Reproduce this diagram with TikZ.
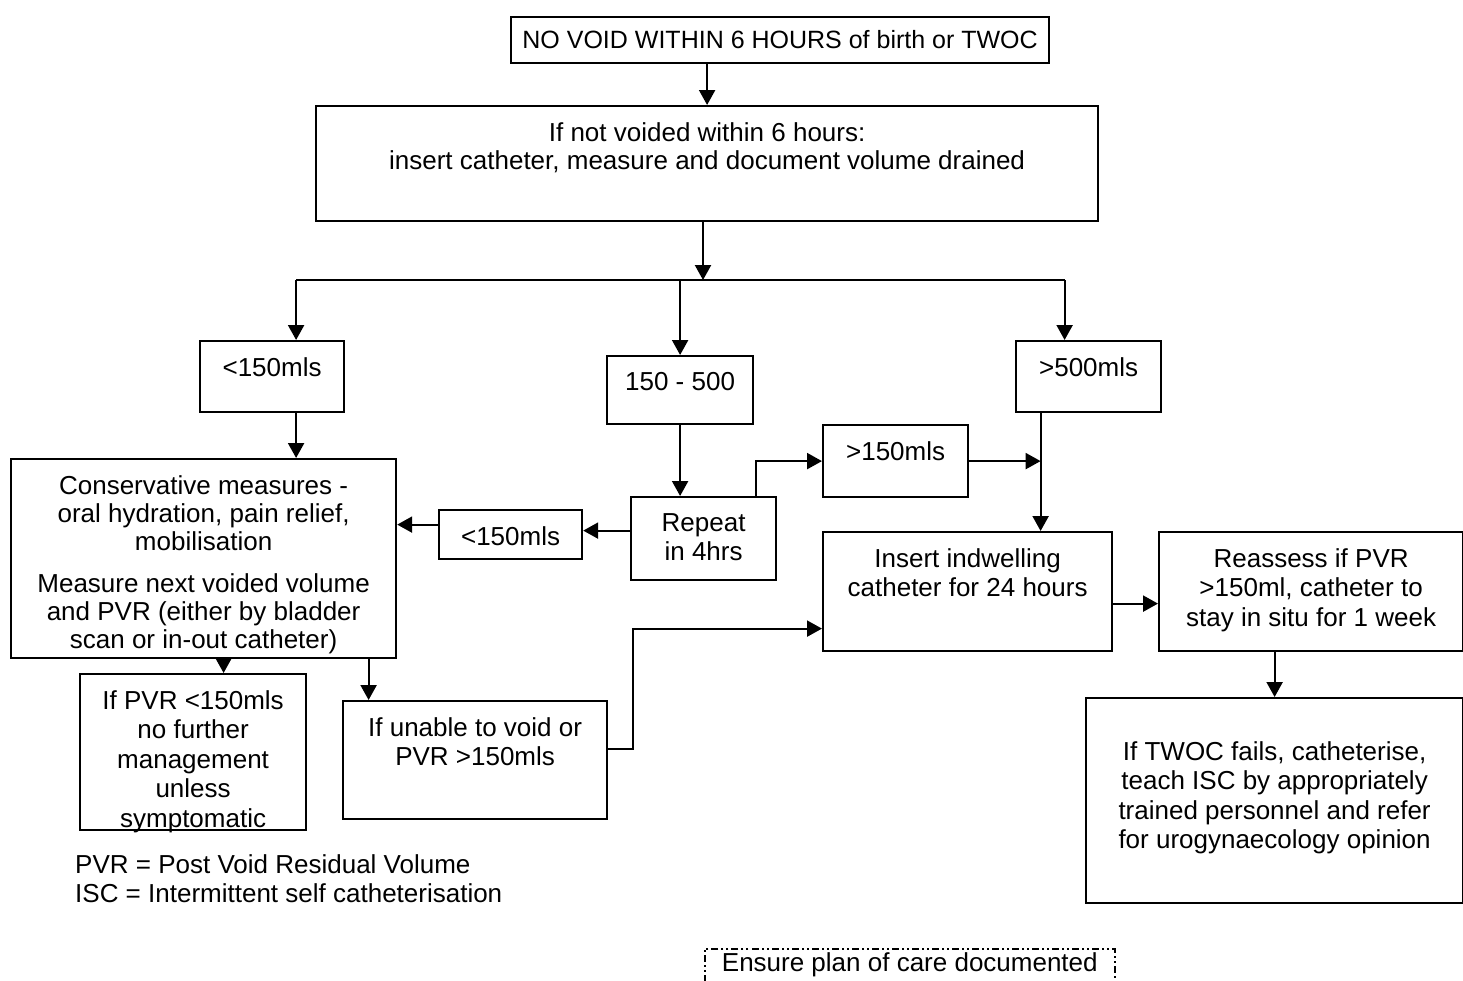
\documentclass[tikz,border=0pt]{standalone}
\usepackage{fontspec}
\setmainfont{Liberation Sans}
\usetikzlibrary{arrows.meta}

\tikzset{
  flowbox/.style={draw, line width=2.2pt, anchor=north west, inner sep=0pt},
  flowtext/.style={anchor=north, align=center, inner sep=0pt, yshift=-17pt,
    font=\fontsize{26}{29.5}\selectfont},
  arr/.style={line width=2.2pt, -{Triangle[length=15pt,width=16pt]}},
  link/.style={line width=2.2pt},
  note/.style={draw, line width=1.8pt, dash pattern=on 7pt off 3pt on 2pt off 3pt on 2pt off 3pt},
}

\begin{document}
\begin{tikzpicture}[x=1pt,y=-1pt]
\useasboundingbox (0,0) rectangle (1463,980);

% boxes
\node[flowbox, minimum width=538pt, minimum height=46pt,
  label={[flowtext, yshift=3pt, font=\fontsize{25}{29.5}\selectfont]north:{NO VOID WITHIN 6 HOURS of birth or TWOC}}] (start) at (510,16) {};
\node[flowbox, minimum width=782pt, minimum height=115pt,
  label={[flowtext, font=\fontsize{26}{28}\selectfont]north:{If not voided within 6 hours:\\insert catheter, measure and document volume drained}}] (drain) at (315,105) {};
\node[flowbox, minimum width=144pt, minimum height=71pt,
  label={[flowtext]north:{<150mls}}] (lo) at (199,340) {};
\node[flowbox, minimum width=146pt, minimum height=68pt,
  label={[flowtext]north:{150 - 500}}] (mid) at (606,355) {};
\node[flowbox, minimum width=145pt, minimum height=71pt,
  label={[flowtext]north:{>500mls}}] (hi) at (1015,340) {};
\node[flowbox, minimum width=145pt, minimum height=72pt,
  label={[flowtext]north:{>150mls}}] (hi150) at (822,424) {};
\node[flowbox, minimum width=385pt, minimum height=199pt,
  label={[flowtext, font=\fontsize{26}{28}\selectfont]north:{Conservative measures -\\oral hydration, pain relief,\\mobilisation\\[14pt]Measure next voided volume\\and PVR (either by bladder\\scan or in-out catheter)}}] (cons) at (10,458) {};
\node[flowbox, minimum width=143pt, minimum height=49pt,
  label={[flowtext]north:{<150mls}}] (lo2) at (438,509) {};
\node[flowbox, minimum width=145pt, minimum height=83pt,
  label={[flowtext]north:{Repeat\\in 4hrs}}] (rep) at (630,496) {};
\node[flowbox, minimum width=289pt, minimum height=119pt,
  label={[flowtext]north:{Insert indwelling\\catheter for 24 hours}}] (indw) at (822,531) {};
\node[flowbox, minimum width=304pt, minimum height=119pt,
  label={[flowtext]north:{Reassess if PVR\\>150ml, catheter to\\stay in situ for 1 week}}] (reas) at (1158,531) {};
\node[flowbox, minimum width=226pt, minimum height=156pt,
  label={[flowtext]north:{If PVR <150mls\\no further\\management\\unless\\symptomatic}}] (pvrok) at (79,673) {};
\node[flowbox, minimum width=264pt, minimum height=118pt,
  label={[flowtext]north:{If unable to void or\\PVR >150mls}}] (unable) at (342,700) {};
\node[flowbox, minimum width=377pt, minimum height=205pt,
  label={[flowtext, yshift=-27pt]north:{If TWOC fails, catheterise,\\teach ISC by appropriately\\trained personnel and refer\\for urogynaecology opinion}}] (twoc) at (1085,697) {};

% legend and note
\node[anchor=north west, align=left, inner sep=0pt, font=\fontsize{26}{29.5}\selectfont] (legend) at (75,854)
  {PVR = Post Void Residual Volume\\ISC = Intermittent self catheterisation};
\node[note, anchor=north west, inner xsep=17pt, inner ysep=5pt, text height=18pt, text depth=6pt,
  font=\fontsize{26}{29.5}\selectfont] (plan) at (704,948) {Ensure plan of care documented};

% connectors
\coordinate (split) at (703,280);
\coordinate (hijoin) at ([xshift=-48pt]hi.south);
\draw[arr] (drain.north |- start.south) -- (drain.north);
\draw[arr] (split |- drain.south) -- (split);
\draw[link] ([xshift=24pt]lo.north |- split) -- ([xshift=-24pt]hi.north |- split);
\draw[arr] ([xshift=24pt]lo.north |- split) -- ([xshift=24pt]lo.north);
\draw[arr] (mid.north |- split) -- (mid.north);
\draw[arr] ([xshift=-24pt]hi.north |- split) -- ([xshift=-24pt]hi.north);
\draw[arr] ([xshift=24pt]lo.south) -- ([xshift=24pt]lo.south |- cons.north);
\draw[arr] (mid.south) -- (mid.south |- rep.north);
\draw[arr] ([yshift=8pt]rep.west) -- ([yshift=8pt]rep.west -| lo2.east);
\draw[arr] ([yshift=10pt]lo2.west) -- ([yshift=10pt]lo2.west -| cons.east);
\draw[arr] ([xshift=52pt]rep.north) |- (hi150.west);
\draw[arr] (hi150.east) -- (hi150.east -| hijoin);
\draw[arr] (hijoin) -- (hijoin |- indw.north);
\draw[arr] ([yshift=-12pt]indw.east) -- ([yshift=-12pt]indw.east -| reas.west);
\draw[arr] (twoc.north |- reas.south) -- (twoc.north);
\draw[arr] ([xshift=20pt]cons.south) -- ([xshift=20pt]cons.south |- pvrok.north);
\draw[arr] ([xshift=165pt]cons.south) -- ([xshift=165pt]cons.south |- unable.north);
\draw[arr] ([yshift=11pt]unable.east) -- ++(25pt,0) |- ([yshift=-37pt]indw.west);
\end{tikzpicture}
\end{document}
